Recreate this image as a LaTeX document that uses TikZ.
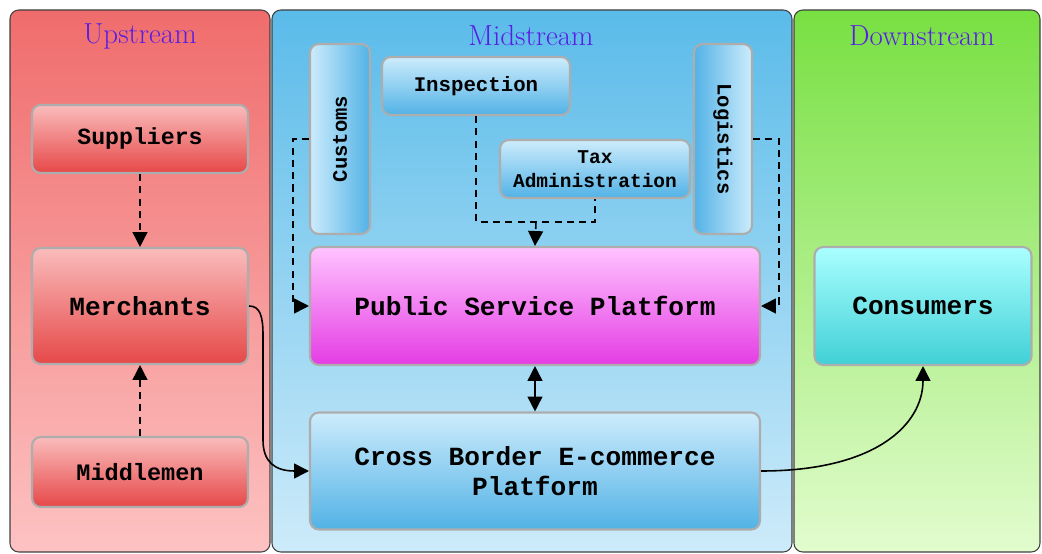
\documentclass[tikz,border=0pt]{standalone}
\usepackage{fontspec}
\newfontfamily\boxfont{Liberation Mono}
\usetikzlibrary{arrows.meta}

\definecolor{titlecol}{RGB}{88,30,228}
\definecolor{upTop}{RGB}{240,108,108}
\definecolor{upBot}{RGB}{253,194,194}
\definecolor{midTop}{RGB}{90,187,233}
\definecolor{midBot}{RGB}{205,235,250}
\definecolor{dnTop}{RGB}{120,224,66}
\definecolor{dnBot}{RGB}{226,252,206}
\definecolor{redTop}{RGB}{250,188,188}
\definecolor{redBot}{RGB}{230,72,72}
\definecolor{bluTop}{RGB}{205,236,252}
\definecolor{bluBot}{RGB}{82,178,230}
\definecolor{pinkTop}{RGB}{255,196,255}
\definecolor{pinkBot}{RGB}{228,60,228}
\definecolor{cyanTop}{RGB}{170,255,255}
\definecolor{cyanBot}{RGB}{64,208,214}

\begin{document}
\begin{tikzpicture}[x=0.02cm,y=-0.02cm,>={Triangle[length=8.5pt,width=8.5pt]},
    panel/.style={draw=black!75,line width=.6pt,rounded corners=5pt},
    box/.style={draw=black!32,line width=1.2pt,rounded corners=5pt,
      inner sep=0pt,align=center,font=\boxfont\bfseries},
    redbox/.style={box,top color=redTop,bottom color=redBot},
    blubox/.style={box,top color=bluTop,bottom color=bluBot},
    pinkbox/.style={box,top color=pinkTop,bottom color=pinkBot},
    cyanbox/.style={box,top color=cyanTop,bottom color=cyanBot},
    title/.style={text=titlecol,font=\fontsize{16.5}{19}\selectfont},
    flow/.style={line width=.9pt,dash pattern=on 4pt off 3pt},
    link/.style={line width=.9pt}]
    \useasboundingbox (0,0) rectangle (1042,554);

    % The three stream panels.
    \draw[panel,top color=upTop,bottom color=upBot] (10,10) rectangle (270,552);
    \draw[panel,top color=midTop,bottom color=midBot] (272,10) rectangle (792,552);
    \draw[panel,top color=dnTop,bottom color=dnBot] (794,10) rectangle (1040,552);
    \node[title] (upT) at (140,36) {Upstream};
    \node[title] (midT) at (531,36) {Midstream};
    \node[title] (dnT) at (922,36) {Downstream};

    % Upstream actors.
    \node[redbox,minimum width=4.32cm,minimum height=1.36cm,
      font=\boxfont\bfseries\fontsize{13.2}{16}\selectfont] (sup) at (140,139) {Suppliers};
    \node[redbox,minimum width=4.32cm,minimum height=2.32cm,
      font=\boxfont\bfseries\fontsize{14.9}{17}\selectfont] (mer) at (140,306) {Merchants};
    \node[redbox,minimum width=4.32cm,minimum height=1.40cm,
      font=\boxfont\bfseries\fontsize{13.4}{16}\selectfont] (mid) at (140,472) {Middlemen};

    % Midstream services and platforms.
    \node[blubox,rotate=90,minimum width=3.8cm,minimum height=1.2cm,shading angle=90,
      font=\boxfont\bfseries\fontsize{11.7}{14}\selectfont] (cus) at (340,139) {Customs};
    \node[blubox,rotate=-90,minimum width=3.8cm,minimum height=1.16cm,shading angle=-90,
      font=\boxfont\bfseries\fontsize{11.7}{14}\selectfont] (log) at (723,139) {Logistics};
    \node[blubox,minimum width=3.76cm,minimum height=1.16cm,
      font=\boxfont\bfseries\fontsize{11.8}{14}\selectfont] (ins) at (476,86) {Inspection};
    \node[blubox,minimum width=3.8cm,minimum height=1.16cm,
      font=\boxfont\bfseries\fontsize{11.1}{13.6}\selectfont] (tax) at (595,169)
      {Tax\\Administration};
    \node[pinkbox,minimum width=9.0cm,minimum height=2.36cm,
      font=\boxfont\bfseries\fontsize{14.9}{17}\selectfont] (psp) at (535,306)
      {Public Service Platform};
    \node[blubox,minimum width=9.0cm,minimum height=2.34cm,
      font=\boxfont\bfseries\fontsize{14.9}{17}\selectfont] (cbe) at (535,471)
      {Cross Border E-commerce\\Platform};

    % Downstream.
    \node[cyanbox,minimum width=4.34cm,minimum height=2.36cm,
      font=\boxfont\bfseries\fontsize{14.9}{17}\selectfont] (con) at (923,306) {Consumers};

    % Dashed supervision and supply links.
    \draw[flow,->] (sup) -- (mer);
    \draw[flow,->] (mid) -- (mer);
    \draw[flow,->] (cus.north) -- ++(-16,0) |- (psp.west);
    \draw[flow,->] (log.north) -- ++(26,0) |- (psp.east);
    \coordinate (join) at (536,222);
    \draw[flow] (ins.south) |- (join) -| (tax.south);
    \draw[flow,->] (join) -- (psp.north);

    % Solid trade links.
    \draw[link,<->] (psp) -- (cbe);
    \draw[link,->] (mer.east) .. controls (260,306) and (263,316) .. (263,335)
      -- (263,440) .. controls (263,462) and (275,471) .. (cbe.west);
    \draw[link,->] (cbe.east) .. controls (875,471) and (923,425) .. (con.south);
\end{tikzpicture}
\end{document}
